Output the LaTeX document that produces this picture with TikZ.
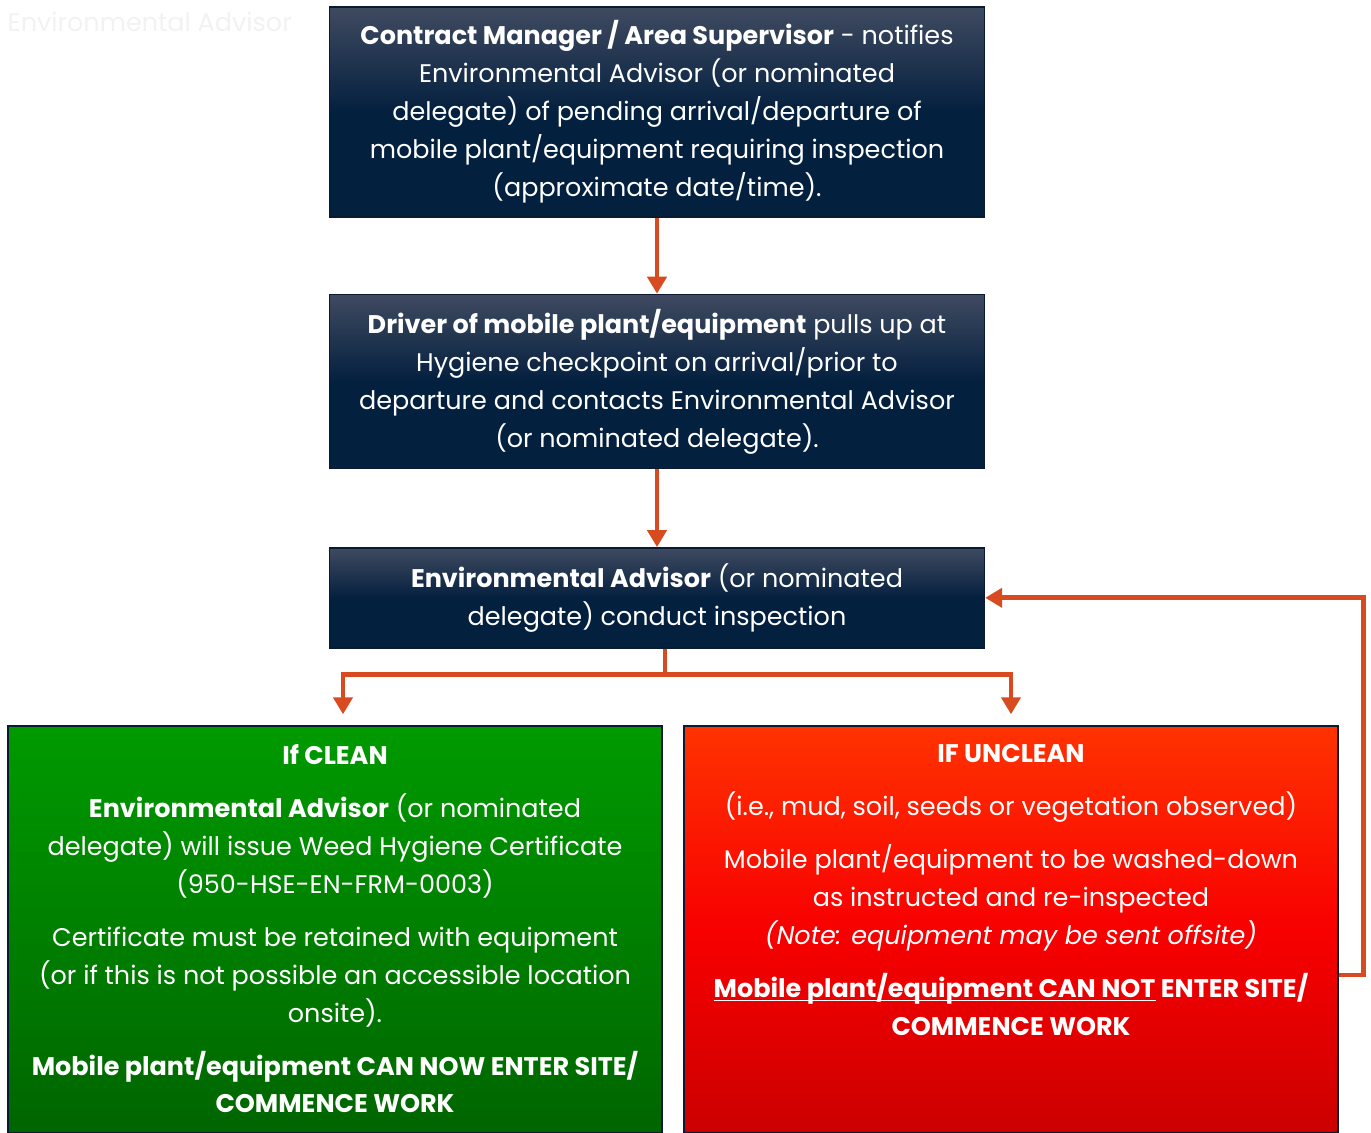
\documentclass[tikz,border=0pt]{standalone}
\usepackage{fontspec}
\setmainfont{Poppins}
\usetikzlibrary{arrows.meta, positioning, calc}

\definecolor{navytop}{HTML}{3F4A60}
\definecolor{navy}{HTML}{04203F}
\definecolor{navyedge}{HTML}{0B1A33}
\definecolor{flowline}{HTML}{D84A20}
\definecolor{cleantop}{HTML}{009A00}
\definecolor{cleanbot}{HTML}{006500}
\definecolor{uncleantop}{HTML}{FF3300}
\definecolor{uncleanmid}{HTML}{F80000}
\definecolor{uncleanbot}{HTML}{CC0000}
\definecolor{faint}{HTML}{F2F2F2}

% underline kept close to the baseline
\newcommand\baseul[1]{\setbox0\hbox{#1}\rlap{\rule[-2.4pt]{\wd0}{1pt}}\box0\relax}

\begin{document}
\begin{tikzpicture}[
    node distance=1.5cm,
    boxfont/.style={font=\fontsize{14.5}{21.6}\selectfont, text=white, align=center},
    stepbox/.style={rectangle, draw=navyedge, line width=0.8pt, top color=navytop, bottom color=navy, middle color=navy, minimum width=13.1cm, boxfont},
    cleanbox/.style={rectangle, draw=navyedge, line width=0.8pt, top color=cleantop, bottom color=cleanbot, minimum width=13.08cm, minimum height=8.14cm},
    uncleanbox/.style={rectangle, draw=navyedge, line width=0.8pt, top color=uncleantop, bottom color=uncleanbot, middle color=uncleanmid, minimum width=13.08cm, minimum height=8.14cm},
    flow/.style={-{Triangle[width=0.38cm, length=0.34cm]}, draw=flowline, line width=2.8pt}
    ]
    \useasboundingbox (0,0) rectangle (27.42,-22.66);

    \node[boxfont, text=faint, anchor=west] (watermark) at (0.03,-0.44) {Environmental Advisor};

    \node[stepbox, minimum height=4.2cm] (notify) at (13.14,-2.24) {%
      \textbf{Contract Manager / Area Supervisor} - notifies\\
      Environmental Advisor (or nominated\\
      delegate) of pending arrival/departure of\\
      mobile plant/equipment requiring inspection\\
      (approximate date/time).};
    \node[stepbox, minimum height=3.48cm, below=1.52cm of notify] (driver) {%
      \textbf{Driver of mobile plant/equipment} pulls up at\\
      Hygiene checkpoint on arrival/prior to\\
      departure and contacts Environmental Advisor\\
      (or nominated delegate).};
    \node[stepbox, minimum height=2cm, below=1.56cm of driver] (inspect) {%
      \textbf{Environmental Advisor} (or nominated\\
      delegate) conduct inspection};

    \node[cleanbox] (clean) at (6.70,-18.59) {};
    \node[boxfont, anchor=north] (cleantext) at ($(clean.north)+(0,-0.26)$) {%
      \textbf{If CLEAN}\\[8.5pt]
      \textbf{Environmental Advisor} (or nominated\\
      delegate) will issue Weed Hygiene Certificate\\
      (950-HSE-EN-FRM-0003)\\[8.5pt]
      Certificate must be retained with equipment\\
      (or if this is not possible an accessible location\\
      onsite).\\[8.5pt]
      \textbf{Mobile plant/equipment CAN NOW ENTER SITE/}\\
      \textbf{COMMENCE WORK}};
    \node[uncleanbox] (unclean) at (20.22,-18.59) {};
    \node[boxfont, anchor=north] (uncleantext) at ($(unclean.north)+(0,-0.26)$) {%
      \textbf{IF UNCLEAN}\\[8.5pt]
      (i.e., mud, soil, seeds or vegetation observed)\\[8.5pt]
      Mobile plant/equipment to be washed-down\\
      as instructed and re-inspected\\
      \textit{(Note: equipment may be sent offsite)}\\[8.5pt]
      \textbf{\baseul{Mobile plant/equipment CAN NOT} ENTER SITE/}\\
      \textbf{COMMENCE WORK}};

    % arrows
    \draw[flow] (notify) -- (driver);
    \draw[flow] (driver) -- (inspect);
    \coordinate (split) at ($(inspect.south)+(0.16,-0.52)$);
    \coordinate (cleanin) at ($(clean.north)+(0.16,0)$);
    \draw[flow, shorten >=0.22cm] ($(inspect.south)+(0.16,0)$) -- (split) -| (cleanin);
    \draw[flow, shorten >=0.22cm] ($(inspect.south)+(0.16,0)$) -- (split) -| (unclean.north);
    \draw[flow] ($(unclean.east)+(0,-0.91)$) -- ++(0.5,0) |- (inspect.east);
  \end{tikzpicture}
\end{document}
